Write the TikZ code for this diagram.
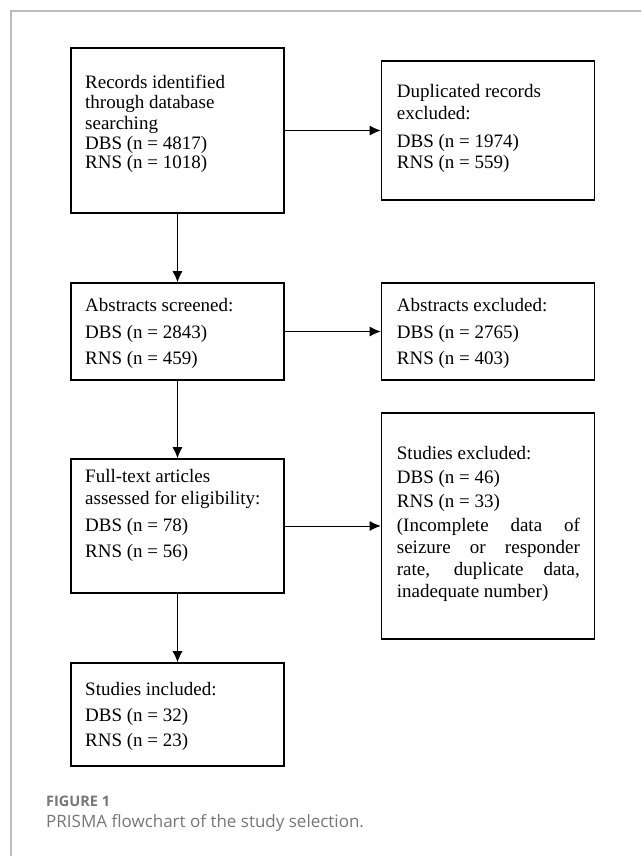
\documentclass[tikz,border=0pt]{standalone}
\usepackage{fontspec}
\setmainfont{Liberation Serif}
\newfontfamily\capfont{Open Sans}
\usepackage{xcolor}
\usetikzlibrary{positioning,arrows.meta}
\definecolor{framegray}{HTML}{BDBDBD}
\definecolor{capgray}{HTML}{767676}

\begin{document}
\begin{tikzpicture}[x=1pt,y=-1pt,
  box/.style={draw, line width=1.6pt, minimum width=213pt, inner sep=0pt},
  txt/.style={anchor=base west, inner sep=0pt, text width=184pt, align=justify,
    font=\fontsize{19}{22}\selectfont},
  arr/.style={-{Latex[length=11pt,width=10pt]}, line width=0.9pt}]
\useasboundingbox (0,0) rectangle (641,856);

% Frame
\draw[framegray, line width=1.2pt] (641,11) -- (11,11) -- (11,856);

% Boxes
\node[box, minimum height=165pt] (rec) at (177.5,130.5) {};
\node[box, minimum height=139pt] (dup) at (488,130.5) {};
\node[box, minimum height=97pt] (scr) at (177.5,331.5) {};
\node[box, minimum height=97pt] (absx) at (488,331.5) {};
\node[box, minimum height=134pt] (full) at (177.5,526) {};
\node[box, minimum height=226pt] (stx) at (488,526) {};
\node[box, minimum height=103pt] (incl) at (177.5,714.5) {};

% Box texts
\node[txt] (recT) at (85,89) {Records identified\\[-2pt] through database\\[-2pt] searching\\[-2pt] DBS (n = 4817)\\[-2pt] RNS (n = 1018)};
\node[txt] (dupT) at (396.7,98) {Duplicated records\\ excluded:\\[6pt] DBS (n = 1974)\\[-1pt] RNS (n = 559)};
\node[txt] (scrT) at (85,311.7) {Abstracts screened:\\[4.5pt] DBS (n = 2843)\\[4pt] RNS (n = 459)};
\node[txt] (absxT) at (396.7,311.7) {Abstracts excluded:\\[4.5pt] DBS (n = 2765)\\[4pt] RNS (n = 403)};
\node[txt] (fullT) at (85,482) {Full-text articles\\ assessed for eligibility:\\[5.7pt] DBS (n = 78)\\[3.3pt] RNS (n = 56)};
\node[txt, text width=183pt] (stxT) at (396.7,459) {Studies excluded:\\[2.3pt] DBS (n = 46)\\[1.7pt] RNS (n = 33)\\[2.7pt] (Incomplete data of\linebreak seizure or responder\linebreak rate, duplicate data,\linebreak inadequate number)};
\node[txt] (inclT) at (85,695) {Studies included:\\[4pt] DBS (n = 32)\\[3.7pt] RNS (n = 23)};

% Arrows
\draw[arr] (rec) -- (dup);
\draw[arr] (rec) -- (scr);
\draw[arr] (scr) -- (absx);
\draw[arr] (scr) -- (full);
\draw[arr] (full) -- (stx);
\draw[arr] (full) -- (incl);

% Caption
\node[anchor=base west, inner sep=0pt, text=capgray, font=\capfont\bfseries\fontsize{14.5}{17}\selectfont] (figLbl) at (46,806) {FIGURE 1};
\node[anchor=base west, inner sep=0pt, text=capgray, font=\capfont\fontsize{17}{20}\selectfont] (figCap) at (46,827) {PRISMA flowchart of the study selection.};
\end{tikzpicture}
\end{document}
